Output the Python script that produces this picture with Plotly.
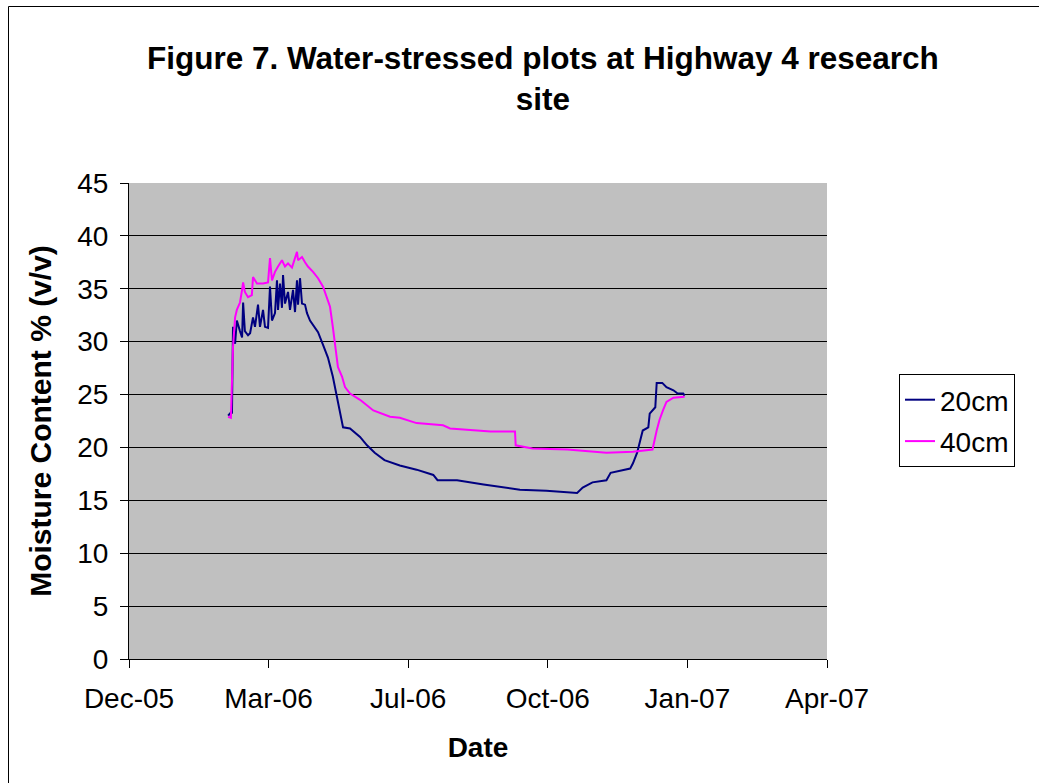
import plotly.graph_objects as go

# ---- data ----
dates_20cm = [
    "2006-02-23 00:00", "2006-02-25 00:00", "2006-02-25 18:00", "2006-02-26 12:00", "2006-02-28 00:00",
    "2006-03-01 06:00", "2006-03-03 12:00", "2006-03-05 00:00", "2006-03-05 18:00", "2006-03-07 00:00",
    "2006-03-09 06:00", "2006-03-10 18:00", "2006-03-12 20:00", "2006-03-14 06:00", "2006-03-16 10:00",
    "2006-03-17 20:00", "2006-03-20 00:00", "2006-03-21 10:00", "2006-03-23 14:00", "2006-03-25 00:00",
    "2006-03-26 10:00", "2006-03-28 14:00", "2006-03-30 00:00", "2006-03-30 18:00", "2006-04-01 04:00",
    "2006-04-02 14:00", "2006-04-03 08:00", "2006-04-04 18:00", "2006-04-06 22:00", "2006-04-08 08:00",
    "2006-04-10 12:00", "2006-04-11 22:00", "2006-04-13 08:00", "2006-04-14 02:00", "2006-04-15 12:00",
    "2006-04-16 22:00", "2006-04-19 02:00", "2006-04-20 12:00", "2006-04-22 16:00", "2006-04-24 20:00",
    "2006-04-28 10:00", "2006-05-02 00:00", "2006-05-05 12:00", "2006-05-09 00:00", "2006-05-12 00:00",
    "2006-05-14 04:00", "2006-05-16 08:00", "2006-05-21 08:00", "2006-05-25 00:00", "2006-05-28 12:00",
    "2006-06-02 12:00", "2006-06-08 00:00", "2006-06-15 00:00", "2006-06-26 00:00", "2006-07-08 00:00",
    "2006-07-20 00:00", "2006-07-23 00:00", "2006-08-06 00:00", "2006-08-25 00:00", "2006-09-06 00:00",
    "2006-09-20 00:00", "2006-10-09 00:00", "2006-10-24 00:00", "2006-10-31 00:00", "2006-11-04 00:00",
    "2006-11-11 00:00", "2006-11-21 00:00", "2006-11-24 00:00", "2006-12-08 00:00", "2006-12-10 00:00",
    "2006-12-13 00:00", "2006-12-15 00:00", "2006-12-17 00:00", "2006-12-21 00:00", "2006-12-22 00:00",
    "2006-12-26 00:00", "2006-12-27 00:00", "2006-12-31 00:00", "2007-01-03 00:00", "2007-01-08 00:00",
    "2007-01-11 00:00", "2007-01-15 00:00", "2007-01-16 00:00",
]
values_20cm = [
    23.0, 23.3, 23.2, 31.4, 29.8,
    32.0, 31.0, 30.4, 33.7, 31.0,
    30.6, 30.8, 32.3, 31.4, 33.5,
    31.4, 33.0, 31.4, 31.3, 35.2,
    32.0, 32.7, 35.8, 33.0, 35.5,
    33.2, 36.3, 33.6, 34.7, 33.0,
    34.9, 32.8, 35.8, 33.5, 36.0,
    33.6, 33.5, 32.7, 32.0, 31.6,
    30.9, 29.7, 28.5, 26.7, 24.8,
    23.3, 21.9, 21.8, 21.4, 21.0,
    20.2, 19.5, 18.8, 18.3, 17.9,
    17.4, 16.9, 16.9, 16.5, 16.3,
    16.0, 15.9, 15.8, 15.7, 16.2,
    16.7, 16.9, 17.6, 18.0, 18.5,
    19.5, 20.5, 21.6, 21.9, 23.2,
    23.8, 26.1, 26.1, 25.7, 25.4,
    25.1, 25.1, 24.9,
]

dates_40cm = [
    "2006-02-23 00:00", "2006-02-25 00:00", "2006-02-26 12:00", "2006-02-28 00:00", "2006-03-01 06:00",
    "2006-03-03 12:00", "2006-03-05 00:00", "2006-03-05 18:00", "2006-03-07 00:00", "2006-03-09 06:00",
    "2006-03-12 00:00", "2006-03-12 20:00", "2006-03-15 16:00", "2006-03-20 00:00", "2006-03-23 14:00",
    "2006-03-25 00:00", "2006-03-26 10:00", "2006-03-28 14:00", "2006-03-30 18:00", "2006-04-02 14:00",
    "2006-04-04 18:00", "2006-04-06 22:00", "2006-04-09 18:00", "2006-04-11 22:00", "2006-04-13 08:00",
    "2006-04-14 02:00", "2006-04-16 22:00", "2006-04-19 02:00", "2006-04-21 04:00", "2006-04-24 20:00",
    "2006-04-28 10:00", "2006-05-02 00:00", "2006-05-04 20:00", "2006-05-07 00:00", "2006-05-09 00:00",
    "2006-05-10 14:00", "2006-05-12 16:00", "2006-05-15 14:00", "2006-05-17 18:00", "2006-05-21 08:00",
    "2006-05-28 12:00", "2006-06-07 00:00", "2006-06-19 00:00", "2006-06-26 00:00", "2006-07-08 00:00",
    "2006-07-27 00:00", "2006-08-01 00:00", "2006-08-30 00:00", "2006-09-16 12:00", "2006-09-17 00:00",
    "2006-09-29 00:00", "2006-10-24 00:00", "2006-11-21 00:00", "2006-12-10 00:00", "2006-12-24 00:00",
    "2006-12-27 00:00", "2006-12-29 00:00", "2006-12-31 12:00", "2007-01-03 00:00", "2007-01-08 00:00",
    "2007-01-13 00:00", "2007-01-16 00:00",
]
values_40cm = [
    22.9, 22.8, 29.5, 32.3, 33.0,
    33.7, 34.9, 35.6, 34.7, 34.2,
    34.4, 36.1, 35.5, 35.5, 35.6,
    37.9, 35.8, 36.6, 37.1, 37.7,
    37.1, 37.4, 37.0, 38.0, 38.5,
    37.7, 38.0, 37.5, 37.1, 36.6,
    36.0, 35.2, 34.2, 33.3, 31.4,
    29.5, 27.6, 26.7, 25.7, 25.1,
    24.5, 23.5, 22.9, 22.8, 22.3,
    22.1, 21.8, 21.5, 21.5, 20.2,
    19.9, 19.8, 19.5, 19.6, 19.8,
    21.6, 22.6, 23.5, 24.3, 24.7,
    24.8, 24.8,
]

series_names = ["20cm", "40cm"]
series_colors = ["#000080", "#FF00FF"]

x_range = ["2005-12-14", "2007-04-28"]
x_tick0 = "2005-12-14"
x_dtick_days = 100
y_range = [0, 45]
y_dtick = 5

title_text = "<b>Figure 7. Water-stressed plots at Highway 4 research<br>site</b>"
x_title = "Date"
y_title = "Moisture Content % (v/v)"

FONT = "Liberation Sans, Arial, sans-serif"

fig = go.Figure()
for i, (d, v) in enumerate([(dates_20cm, values_20cm), (dates_40cm, values_40cm)]):
    fig.add_trace(go.Scatter(
        x=d, y=v, mode="lines", name=series_names[i],
        line=dict(color=series_colors[i], width=2),
        legendgroup=series_names[i],
    ))

# plot area in pixels: x 129..827, y 183..659
L, R, T, B = 129, 827, 183, 659
W, H = 1039, 783
pw, ph = R - L, B - T

def px_to_paper_x(px):
    return (px - L) / pw

def px_to_paper_y(py):
    return (B - py) / ph

fig.update_layout(
    width=W, height=H,
    margin=dict(l=L, r=W - R, t=T, b=H - B, autoexpand=False),
    paper_bgcolor="white",
    plot_bgcolor="#C0C0C0",
    font=dict(family=FONT, size=28, color="black"),
    showlegend=True,
    legend=dict(
        x=px_to_paper_x(899), y=px_to_paper_y(374),
        xanchor="left", yanchor="top",
        bordercolor="black", borderwidth=1,
        bgcolor="white",
        font=dict(family=FONT, size=28, color="black"),
        tracegroupgap=2,
    ),
    xaxis=dict(
        type="date",
        range=x_range,
        tick0=x_tick0,
        dtick=x_dtick_days * 86400000,
        tickformat="%b-%y",
        showgrid=False,
        showline=True, linecolor="black", linewidth=1,
        ticks="outside", ticklen=8, tickcolor="black",
        tickfont=dict(family=FONT, size=28, color="black"),
        ticklabelstandoff=6,
        title=dict(text=x_title, font=dict(family=FONT, size=28, color="black", weight="bold"), standoff=24),
        zeroline=False,
    ),
    yaxis=dict(
        range=y_range,
        dtick=y_dtick,
        showgrid=True, gridcolor="black", gridwidth=1,
        showline=True, linecolor="black", linewidth=1,
        ticks="outside", ticklen=8, tickcolor="black",
        tickfont=dict(family=FONT, size=28, color="black"),
        ticklabelstandoff=6,
        title=dict(text=y_title, font=dict(family=FONT, size=30, color="black", weight="bold"), standoff=16),
        zeroline=False,
    ),
)

# chart title
fig.add_annotation(
    text=title_text, showarrow=False,
    xref="paper", yref="paper",
    x=px_to_paper_x(543), y=px_to_paper_y(38),
    xanchor="center", yanchor="top",
    font=dict(family=FONT, size=31.5, color="black"),
    align="center",
)

# outer chart border
fig.add_shape(
    type="rect", xref="paper", yref="paper",
    x0=px_to_paper_x(8.5), x1=px_to_paper_x(1080),
    y0=px_to_paper_y(820), y1=px_to_paper_y(6.5),
    line=dict(color="black", width=1), fillcolor="rgba(0,0,0,0)",
    layer="below",
)

fig.write_html(
    "out.html",
    config={"displayModeBar": False},
    post_script="document.body.style.margin='0';document.body.style.overflow='hidden';",
)
